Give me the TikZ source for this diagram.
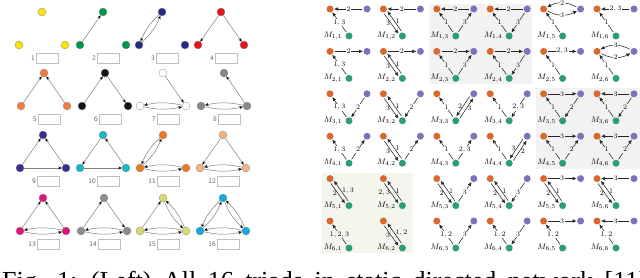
\documentclass[tikz,border=0pt]{standalone}
\usepackage{fontspec}
\newfontfamily\capfont{Liberation Serif}
\usetikzlibrary{arrows.meta,positioning,calc}
% triad colours
\definecolor{tyel}{RGB}{250,226,12}
\definecolor{tgrn}{RGB}{0,150,75}
\definecolor{tnav}{RGB}{40,40,135}
\definecolor{tred}{RGB}{228,22,28}
\definecolor{tora}{RGB}{240,125,62}
\definecolor{tblk}{RGB}{20,20,20}
\definecolor{tgry}{RGB}{135,135,135}
\definecolor{tind}{RGB}{55,45,140}
\definecolor{tcyn}{RGB}{30,180,200}
\definecolor{tor2}{RGB}{238,120,35}
\definecolor{tpch}{RGB}{246,178,126}
\definecolor{tmag}{RGB}{222,20,122}
\definecolor{tgr2}{RGB}{140,140,140}
\definecolor{tkha}{RGB}{216,218,105}
\definecolor{tsky}{RGB}{18,168,224}
% motif colours
\definecolor{mora}{RGB}{216,104,46}
\definecolor{mpur}{RGB}{122,116,186}
\definecolor{mgrn}{RGB}{44,158,118}
\definecolor{shg}{RGB}{242,242,242}
\definecolor{shv}{RGB}{244,246,237}
\tikzset{
  % triad census
  tv/.style={circle,draw=black!45,line width=0.3pt,fill=#1,minimum size=8pt,inner sep=0pt},
  te/.style={draw=black!50,line width=0.5pt,-{Stealth[length=3.5pt,width=3pt,color=black]}},
  tm/.style={te,bend right=12},
  tbox/.style={draw=black!25,fill=white,line width=0.4pt,minimum width=22pt,minimum height=10pt,
    inner sep=0pt,anchor=west},
  tnum/.style={font=\fontsize{7}{8}\sffamily,text=black!60,anchor=east,inner sep=1pt},
  % temporal motifs
  mv/.style={circle,fill=#1,minimum size=7pt,inner sep=0pt},
  me/.style={draw=black!85,line width=0.55pt,-{Latex[length=4pt,width=3.6pt]},shorten <=1pt,shorten >=0.3pt},
  dbl/.style={shorten <=4.5pt,shorten >=4pt},
  el/.style={fill=white,inner sep=0.6pt,font=\scriptsize},
  elg/.style={el,fill=shg},
  elv/.style={el,fill=shv},
  sl/.style={inner sep=0.8pt,font=\scriptsize},
  ml/.style={inner sep=0pt,font=\footnotesize},
}
% two opposite edges between the same pair, each kept to its right
\newcommand\twin[4]{\draw[me,dbl] ($(#1)!2pt!-90:(#2)$) -- node[sl,#3]{$#4$} ($(#2)!2pt!90:(#1)$);}

\begin{document}
\begin{tikzpicture}[x=1pt,y=-1pt,font=\scriptsize]
    \useasboundingbox (0,0) rectangle (640,278);
    \fill[white] (0,0) rectangle (640,278);

    % left: the 16 triads
    \foreach \k/\x/\y/\c in {1/42/12/tyel,2/103/12/tgrn,3/162/12/tnav,4/221/12/tred,
      5/44/73/tora,6/105/73/tblk,7/163/73/white,8/224/73/tgry,
      9/43/135/tind,10/103/135/tcyn,11/163/135/tor2,12/223/135/tpch,
      13/43/198/tmag,14/104/198/tgr2,15/163/198/tkha,16/223/198/tsky}{
      \node[tv=\c] (t\k t) at (\x,\y) {};
      \node[tv=\c] (t\k l) at (\x-23,\y+33) {};
      \node[tv=\c] (t\k r) at (\x+23,\y+33) {};
      \node[tbox] (t\k b) at (\x-6,\y+46) {};
      \node[tnum] at (t\k b.west) {\k};
    }
    \draw[te] (t2l) -- (t2t);
    \draw[tm] (t3l) to (t3t); \draw[tm] (t3t) to (t3l);
    \draw[te] (t4t) -- (t4l); \draw[te] (t4t) -- (t4r);
    \draw[te] (t5l) -- (t5t); \draw[te] (t5r) -- (t5t);
    \draw[te] (t6l) -- (t6t); \draw[te] (t6t) -- (t6r);
    \draw[te] (t7t) -- (t7r);
    \draw[te] (t8r) -- (t8t);
    \draw[te] (t9l) -- (t9t); \draw[te] (t9r) -- (t9t); \draw[te] (t9l) -- (t9r);
    \draw[te] (t10t) -- (t10l); \draw[te] (t10l) -- (t10r); \draw[te] (t10r) -- (t10t);
    \draw[tm] (t11l) to (t11t); \draw[tm] (t11t) to (t11l);
    \draw[te] (t12t) -- (t12l); \draw[te] (t12t) -- (t12r);
    \draw[te] (t13l) -- (t13t); \draw[te] (t13r) -- (t13t);
    \draw[te] (t14l) -- (t14t); \draw[te] (t14t) -- (t14r);
    \draw[te] (t15l) -- (t15t); \draw[tm] (t15t) to (t15r); \draw[tm] (t15r) to (t15t);
    \draw[tm] (t16l) to (t16t); \draw[tm] (t16t) to (t16l);
    \draw[tm] (t16t) to (t16r); \draw[tm] (t16r) to (t16t);
    \foreach \k in {7,8,11,12,13,14,15,16}{
      \draw[tm] (t\k l) to (t\k r); \draw[tm] (t\k r) to (t\k l);
    }

    % right: shaded groups
    \fill[shg] (429,4) rectangle (532,84);
    \fill[shg] (536,88) rectangle (640,169);
    \fill[shv] (322,173) rectangle (413,253);

    % right: motif nodes
    \foreach \i in {1,...,6}{
      \foreach \j in {1,...,6}{
        \pgfmathsetmacro\mx{330+53.4*(\j-1)}
        \pgfmathsetmacro\my{9+42.4*(\i-1)}
        \node[mv=mora] (mo\i\j) at (\mx,\my) {};
        \node[mv=mgrn] (mg\i\j) at (\mx+19,\my+27) {};
        \node[ml,left=3pt of mg\i\j] (lm\i\j) {$M_{\i,\j}$};
        \pgfmathtruncatemacro\pair{and(\i>4,\j<3)}
        \ifnum\pair=0 \node[mv=mpur] (mp\i\j) at (\mx+37,\my) {};\fi
      }
    }

    % row 1
    \draw[me] (mp11) -- node[el]{$2$} (mo11);
    \draw[me] (mg11) -- node[el]{$1,3$} (mo11);
    \draw[me] (mp12) -- node[el]{$2$} (mo12);
    \twin{mo12}{mg12}{left}{3}
    \twin{mg12}{mo12}{right}{1}
    \draw[me] (mp13) -- node[elg]{$2$} (mo13);
    \draw[me] (mg13) -- node[elg]{$1$} (mo13);
    \draw[me] (mg13) -- node[elg]{$3$} (mp13);
    \draw[me] (mp14) -- node[elg]{$2$} (mo14);
    \draw[me] (mg14) -- node[elg]{$1$} (mo14);
    \draw[me] (mp14) -- node[elg]{$3$} (mg14);
    \draw[me] (mp15) to[bend right=28] node[el]{$2$} (mo15);
    \draw[me] (mo15) to[bend right=28] node[el]{$3$} (mp15);
    \draw[me] (mg15) -- node[el]{$1$} (mo15);
    \draw[me] (mp16) -- node[el]{$2,3$} (mo16);
    \draw[me] (mg16) -- node[el]{$1$} (mo16);
    % row 2
    \draw[me] (mo21) -- node[el]{$2$} (mp21);
    \draw[me] (mg21) -- node[el]{$1,3$} (mo21);
    \draw[me] (mo22) -- node[el]{$2$} (mp22);
    \twin{mo22}{mg22}{left}{3}
    \twin{mg22}{mo22}{right}{1}
    \draw[me] (mo23) -- node[elg]{$2$} (mp23);
    \draw[me] (mg23) -- node[elg]{$1$} (mo23);
    \draw[me] (mg23) -- node[elg]{$3$} (mp23);
    \draw[me] (mo24) -- node[elg]{$2$} (mp24);
    \draw[me] (mg24) -- node[elg]{$1$} (mo24);
    \draw[me] (mp24) -- node[elg]{$3$} (mg24);
    \draw[me] (mo25) -- node[el]{$2,3$} (mp25);
    \draw[me] (mg25) -- node[el]{$1$} (mo25);
    \draw[me] (mp26) to[bend right=28] node[el]{$3$} (mo26);
    \draw[me] (mo26) to[bend right=28] node[el]{$2$} (mp26);
    \draw[me] (mg26) -- node[el]{$1$} (mo26);
    % row 3
    \draw[me] (mg31) -- node[el]{$1,3$} (mo31);
    \draw[me] (mp31) -- node[el]{$2$} (mg31);
    \twin{mo32}{mg32}{left}{3}
    \twin{mg32}{mo32}{right}{1}
    \draw[me] (mp32) -- node[el]{$2$} (mg32);
    \draw[me] (mg33) -- node[el]{$1$} (mo33);
    \twin{mp33}{mg33}{left}{2}
    \twin{mg33}{mp33}{right}{3}
    \draw[me] (mg34) -- node[el]{$1$} (mo34);
    \draw[me] (mp34) -- node[el]{$2,3$} (mg34);
    \draw[me] (mo35) -- node[elg]{$3$} (mp35);
    \draw[me] (mg35) -- node[elg]{$1$} (mo35);
    \draw[me] (mp35) -- node[elg]{$2$} (mg35);
    \draw[me] (mp36) -- node[elg]{$3$} (mo36);
    \draw[me] (mg36) -- node[elg]{$1$} (mo36);
    \draw[me] (mp36) -- node[elg]{$2$} (mg36);
    % row 4
    \draw[me] (mg41) -- node[el]{$1,3$} (mo41);
    \draw[me] (mg41) -- node[el]{$2$} (mp41);
    \twin{mo42}{mg42}{left}{3}
    \twin{mg42}{mo42}{right}{1}
    \draw[me] (mg42) -- node[el]{$2$} (mp42);
    \draw[me] (mg43) -- node[el]{$1$} (mo43);
    \draw[me] (mg43) -- node[el]{$2,3$} (mp43);
    \draw[me] (mg44) -- node[el]{$1$} (mo44);
    \twin{mp44}{mg44}{left}{3}
    \twin{mg44}{mp44}{right}{2}
    \draw[me] (mo45) -- node[elg]{$3$} (mp45);
    \draw[me] (mg45) -- node[elg]{$1$} (mo45);
    \draw[me] (mg45) -- node[elg]{$2$} (mp45);
    \draw[me] (mp46) -- node[elg]{$3$} (mo46);
    \draw[me] (mg46) -- node[elg]{$1$} (mo46);
    \draw[me] (mg46) -- node[elg]{$2$} (mp46);
    % row 5
    \twin{mo51}{mg51}{left}{2}
    \twin{mg51}{mo51}{right}{1,3}
    \twin{mo52}{mg52}{left}{2,3}
    \twin{mg52}{mo52}{right}{1}
    \twin{mo53}{mg53}{left}{2}
    \twin{mg53}{mo53}{right}{1}
    \draw[me] (mg53) -- node[el]{$3$} (mp53);
    \twin{mo54}{mg54}{left}{2}
    \twin{mg54}{mo54}{right}{1}
    \draw[me] (mp54) -- node[el]{$3$} (mg54);
    \twin{mo55}{mg55}{left}{2}
    \twin{mg55}{mo55}{right}{1}
    \draw[me] (mo55) -- node[el]{$3$} (mp55);
    \twin{mo56}{mg56}{left}{2}
    \twin{mg56}{mo56}{right}{1}
    \draw[me] (mp56) -- node[el]{$3$} (mo56);
    % row 6
    \draw[me] (mg61) -- node[elv]{$1,2,3$} (mo61);
    \twin{mo62}{mg62}{left}{3}
    \twin{mg62}{mo62}{right}{1,2}
    \draw[me] (mg63) -- node[el]{$1,2$} (mo63);
    \draw[me] (mg63) -- node[el]{$3$} (mp63);
    \draw[me] (mg64) -- node[el]{$1,2$} (mo64);
    \draw[me] (mp64) -- node[el]{$3$} (mg64);
    \draw[me] (mg65) -- node[el]{$1,2$} (mo65);
    \draw[me] (mo65) -- node[el]{$3$} (mp65);
    \draw[me] (mg66) -- node[el]{$1,2$} (mo66);
    \draw[me] (mp66) -- node[el]{$3$} (mo66);

    % caption, cut by the page edge
    \node[font=\capfont\fontsize{26}{31}\selectfont,anchor=base west,inner sep=0pt] (cap) at (2,289)
      {\spaceskip=11.5pt Fig. 1: (Left) All 16 triads in static directed network [11]};
  \end{tikzpicture}
\end{document}
